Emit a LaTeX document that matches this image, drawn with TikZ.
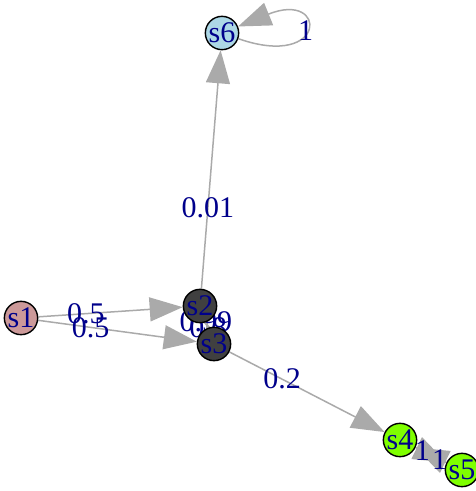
\documentclass[tikz,border=0pt]{standalone}
\usepackage{fontspec}
\setmainfont{Liberation Serif}
\usetikzlibrary{arrows.meta,backgrounds}
\definecolor{edgegray}{HTML}{AAAAAA}
\definecolor{lbldark}{HTML}{00008B}
\definecolor{rosy}{HTML}{CC9999}
\definecolor{darkv}{HTML}{404040}
\definecolor{limev}{HTML}{7FFF00}
\definecolor{skyv}{HTML}{ADD8E6}
\pgfdeclarelayer{lbls}
\pgfsetlayers{background,lbls,main}
\begin{document}
\begin{tikzpicture}[x=1pt,y=-1pt,
        state/.style={circle,draw=black,line width=1.4pt,minimum size=30pt,inner sep=0pt,
            text=lbldark,font=\fontsize{30}{30}\selectfont},
        edge/.style={draw=edgegray,line width=1.5pt,-{Triangle[length=33pt,width=24pt]},edgegray},
        lbl/.style={text=lbldark,font=\fontsize{30}{30}\selectfont,inner sep=0pt}]
        \useasboundingbox (0,0) rectangle (475,491);
        \node[state,fill=rosy] (s1) at (21,318) {s1};
        \node[state,fill=darkv] (s2) at (200,306) {s2};
        \node[state,fill=darkv] (s3) at (214,344) {s3};
        \node[state,fill=limev] (s4) at (400,440) {s4};
        \node[state,fill=limev] (s5) at (462,470) {s5};
        \node[state,fill=skyv] (s6) at (222,33) {s6};
        \begin{scope}[on background layer]
        \draw[edge] (s1) -- coordinate[pos=0.33] (l12) (s2);
        \draw[edge] (s1) -- coordinate[pos=0.33] (l13) (s3);
        \draw[edge] (s2) -- coordinate[pos=0.34] (l26) (s6);
        \draw[edge] (s2) -- coordinate[pos=-0.03] (l23) (s3);
        \draw[edge] (s3) -- coordinate[pos=-0.03] (l32) (s2);
        \draw[edge] (s3) -- coordinate[pos=0.34] (l34) (s4);
        \draw[edge] (s4) -- coordinate[pos=0.22] (l45) (s5);
        \draw[edge] (s5) -- coordinate[pos=0.22] (l54) (s4);
        \draw[edge] (s6) .. controls (328,70) and (328,-10) .. coordinate[pos=0.5] (l66) (s6);
        \end{scope}
        \begin{pgfonlayer}{lbls}
        \node[lbl] at (l12) {0.5};
        \node[lbl] at (l13) {0.5};
        \node[lbl] at (l26) {0.01};
        \node[lbl] at (l23) {0.99};
        \node[lbl] at (l32) {0.8};
        \node[lbl] at (l34) {0.2};
        \node[lbl] at (l45) {1};
        \node[lbl] at (l54) {1};
        \node[lbl] at (l66) {1};
        \end{pgfonlayer}
\end{tikzpicture}
\end{document}
